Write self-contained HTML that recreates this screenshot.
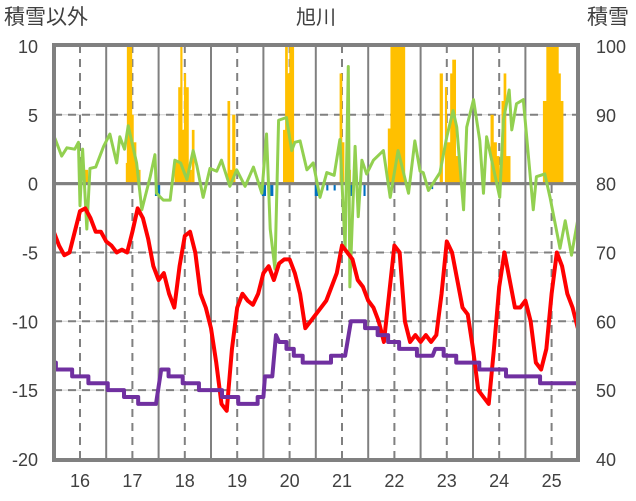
<!DOCTYPE html>
<html><head><meta charset="utf-8"><style>
body{margin:0;background:#fff;}
svg{display:block;font-family:"Liberation Sans","Noto Sans CJK JP",sans-serif;}
</style></head><body>
<svg id="c" width="636" height="501"></svg>
<script>
const leftTicks=[10,5,0,-5,-10,-15,-20];
const rightTicks=[100,90,80,70,60,50,40];
const xTicks=[16,17,18,19,20,21,22,23,24,25];
const redT=[15.5,15.6,15.7,15.8,15.9,16.0,16.1,16.2,16.3,16.4,16.5,16.6,16.7,16.8,16.9,17.0,17.1,17.2,17.3,17.4,17.5,17.6,17.7,17.8,17.9,18.0,18.1,18.2,18.3,18.4,18.5,18.6,18.7,18.8,18.9,19.0,19.1,19.2,19.3,19.4,19.5,19.6,19.7,19.8,19.9,20.0,20.1,20.2,20.3,20.4,20.5,20.6,20.7,20.8,20.9,21.0,21.1,21.2,21.3,21.4,21.5,21.6,21.7,21.8,21.9,22.0,22.1,22.2,22.3,22.4,22.5,22.6,22.7,22.8,22.9,23.0,23.1,23.2,23.3,23.4,23.5,23.6,23.7,23.8,23.9,24.0,24.1,24.2,24.3,24.4,24.5,24.6,24.7,24.8,24.9,25.0,25.1,25.2,25.3,25.4,25.5];
const redV=[-3.5,-4.5,-5.2,-5,-3.5,-2,-1.8,-2.5,-3.5,-3.5,-4.2,-4.5,-5,-4.8,-5,-3.5,-1.8,-2.5,-4,-6,-7,-6.5,-8,-9,-6,-3.8,-3.5,-5,-8,-9,-10.5,-13,-16,-16.5,-12,-9,-8,-8.5,-8.8,-8,-6.5,-6,-7,-5.8,-5.5,-5.5,-6.5,-8,-10.5,-10,-9.5,-9,-8.5,-7.5,-6.5,-4.5,-5,-5.5,-7,-7.5,-8.5,-9,-10,-11.5,-8,-4.5,-5,-10,-11.5,-11,-11.5,-11,-11.5,-11,-8,-4.2,-5,-7,-9,-9.5,-12,-15,-15.5,-16,-12,-7.5,-5,-7,-9,-9,-8.5,-10,-13,-13.5,-12,-8,-5,-6,-8,-9,-10.5];
const purpleT=[15.5,15.54,15.54,15.85,15.85,16.16,16.16,16.53,16.53,16.84,16.84,17.11,17.11,17.45,17.55,17.69,17.69,17.96,17.96,18.27,18.27,18.71,18.71,19.02,19.02,19.39,19.39,19.5,19.53,19.67,19.74,19.8,19.94,19.94,20.08,20.08,20.25,20.25,20.79,20.79,21.06,21.17,21.44,21.44,21.68,21.68,21.88,21.88,22.09,22.09,22.43,22.43,22.73,22.78,22.94,22.94,23.18,23.18,23.62,23.62,24.13,24.13,24.78,24.78,25.5];
const purpleV=[-13,-13,-13.5,-13.5,-14,-14,-14.5,-14.5,-15,-15,-15.5,-15.5,-16,-16,-13.5,-13.5,-14,-14,-14.5,-14.5,-15,-15,-15.5,-15.5,-16,-16,-15.5,-15.5,-14,-14,-11,-11.5,-11.5,-12,-12,-12.5,-12.5,-13,-13,-12.5,-12.5,-10,-10,-10.5,-10.5,-11,-11,-11.5,-11.5,-12,-12,-12.5,-12.5,-12,-12,-12.5,-12.5,-13,-13,-13.5,-13.5,-14,-14,-14.5,-14.5];
const greenT=[15.5,15.52,15.65,15.75,15.9,15.97,16.0,16.05,16.13,16.19,16.3,16.45,16.57,16.7,16.76,16.85,16.92,17.08,17.18,17.34,17.43,17.46,17.59,17.72,17.81,17.92,18.04,18.16,18.23,18.35,18.48,18.61,18.7,18.86,18.99,19.15,19.31,19.47,19.56,19.63,19.72,19.79,19.94,20.04,20.1,20.2,20.33,20.45,20.58,20.71,20.85,20.96,21.06,21.12,21.15,21.25,21.31,21.38,21.47,21.6,21.79,21.92,22.07,22.27,22.39,22.49,22.55,22.65,22.87,23.0,23.12,23.19,23.32,23.38,23.51,23.63,23.7,23.76,24.01,24.08,24.19,24.24,24.33,24.46,24.65,24.71,24.87,24.97,25.16,25.26,25.38,25.51];
const greenV=[3.3,3.3,2.0,2.6,2.5,3.0,-1.6,2.5,-3.3,1.1,1.2,2.7,3.6,1.5,3.4,2.5,4.2,1.5,-1.9,0.5,2.1,-0.7,-1.2,-1.2,1.7,1.5,0.3,2.4,1.3,-1.0,1.1,0.9,1.7,-0.2,1.0,-0.2,1.2,-0.7,3.6,-3.3,-6.2,4.6,4.8,2.4,3.0,3.1,1.0,1.5,-1,0.8,0.6,3.2,-4.7,8.5,-7.5,2.7,-2.4,1.7,0.7,1.7,2.4,-1,2.4,-0.7,3.1,0.9,0.8,-0.5,0.8,3.4,5.3,4.1,-1.9,4.1,6.1,3.1,-0.7,3.4,-1,4.6,6.8,3.9,5.8,6.1,-1.9,0.5,0.7,-1,-4.7,-2.7,-5.2,-2.4];
const snowStart=[16.1,16.88,16.9,16.99,17.02,17.07,17.81,17.88,17.92,17.95,17.99,18.02,18.07,18.14,18.82,18.86,18.91,19.88,19.92,19.96,20.0,20.96,21.0,21.09,21.88,21.93,22.87,22.97,23.0,23.07,23.11,23.17,23.84,23.89,23.95,24.05,24.09,24.13,24.84,24.905,25.13,25.17];
const snowEnd=[16.15,16.9,16.99,17.02,17.07,17.15,17.88,17.92,17.95,17.99,18.02,18.07,18.13,18.18,18.86,18.91,18.96,19.92,19.96,20.0,20.08,21.0,21.04,21.165,21.93,22.2,22.92,23.0,23.07,23.11,23.17,23.25,23.89,23.95,24.0,24.09,24.13,24.21,24.905,25.13,25.17,25.22];
const snowDepth=[82,83,100,90,86,82,83.4,94,100,87.8,96,94,82,87.8,92,82,90,87.8,100,96,100,96,86,82,88,100,96,94,86,96,98,84,90,86,84,92,96,84,92,100,96,92];
const meltStart=[17.43,19.47,19.63,20.48,20.7,20.84,21.15,21.41,22.71];
const meltEnd=[17.53,19.55,19.69,20.55,20.74,20.88,21.2,21.45,22.74];
const meltV=[-0.9,-0.9,-0.9,-0.9,-0.5,-0.5,-0.9,-0.9,-0.4];

const svg=document.getElementById('c');
const NS='http://www.w3.org/2000/svg';
const L=54,R=578,T=45,B=460;
function X(t){return 80+(t-16)*52.4;}
function Y(v){return 183.6-v*13.77;}
function YR(r){return Y((r-80)/2);}
function mk(tag,attrs,name,parent){const e=document.createElementNS(NS,tag);for(const k in attrs)e.setAttribute(k,attrs[k]);(parent||svg).appendChild(e);return e;}
function txt(x,y,s,anchor,name,size){const e=mk('text',{x:x,y:y,'font-size':size||18,fill:'#404040','text-anchor':anchor},name);e.textContent=s;return e;}
const g=mk('g',{},'grid');
leftTicks.forEach(v=>{if(v===10||v===-20)return;const y=Y(v);
 if(v===0)mk('line',{x1:L,x2:R,y1:y,y2:y,stroke:'#808080','stroke-width':3},'zero-line',g);
 else{mk('line',{x1:L,x2:R,y1:y,y2:y,stroke:'#d0d0d0','stroke-width':1},'h-grid-light',g);mk('line',{x1:L,x2:R,y1:y,y2:y,stroke:'#808080','stroke-width':2,'stroke-dasharray':'8,6'},'h-grid-dashed',g);}});
xTicks.forEach(t=>{mk('line',{x1:X(t),x2:X(t),y1:T,y2:B,stroke:'#808080','stroke-width':2,'stroke-dasharray':'8,6'},'v-grid-dashed',g);
 if(t<25)mk('line',{x1:X(t+0.5),x2:X(t+0.5),y1:T,y2:B,stroke:'#808080','stroke-width':2},'v-grid-solid',g);});
const bg=mk('g',{},'snow-bars');
snowStart.forEach((s,i)=>{const top=Math.max(YR(snowDepth[i]),T);mk('rect',{x:X(s)-0.3,y:top,width:X(snowEnd[i])-X(s)+0.6,height:Y(0)-top,fill:'#FFC000'},'snow-bar',bg);});
const mg=mk('g',{},'melt-bars');
meltStart.forEach((s,i)=>{mk('rect',{x:X(s),y:Y(0),width:X(meltEnd[i])-X(s),height:Y(meltV[i])-Y(0),fill:'#0070C0'},'melt-bar',mg);});
mk('line',{x1:L,x2:R,y1:Y(0),y2:Y(0),stroke:'#808080','stroke-width':3},'zero-line-top');
function line(ts,vs,color,w,name){mk('polyline',{points:ts.map((t,i)=>X(t)+','+Y(vs[i])).join(' '),fill:'none',stroke:color,'stroke-width':w,'stroke-linejoin':'round'},name);}
line(greenT,greenV,'#92D050',3,'green-series');
line(redT,redV,'#FF0000',4,'red-series');
line(purpleT,purpleV,'#7030A0',4,'purple-series');
mk('rect',{x:L,y:T,width:R-L,height:B-T,fill:'none',stroke:'#808080','stroke-width':4},'plot-frame');
leftTicks.forEach(v=>txt(38,Y(v)+7,String(v),'end','left-tick-label'));
rightTicks.forEach((r,i)=>txt(596,Y(leftTicks[i])+7,String(r),'start','right-tick-label'));
xTicks.forEach(t=>txt(X(t),487,String(t),'middle','x-tick-label'));
txt(316,24,'旭川','middle','chart-title',20);
txt(4,24,'積雪以外','start','left-axis-title',21);
txt(587,24,'積雪','start','right-axis-title',21);
</script>
</body></html>
